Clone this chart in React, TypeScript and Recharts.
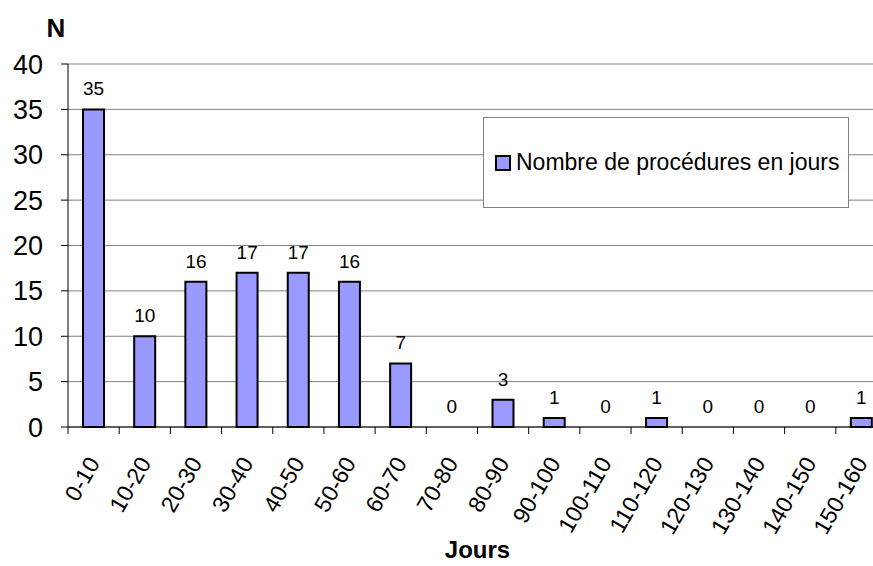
import React from 'react';
import { ComposedChart, Bar, Line, XAxis, YAxis, CartesianGrid, LabelList, Legend } from 'recharts';

const categories = ['0-10', '10-20', '20-30', '30-40', '40-50', '50-60', '60-70', '70-80', '80-90', '90-100', '100-110', '110-120', '120-130', '130-140', '140-150', '150-160'];
const counts = [35, 10, 16, 17, 17, 16, 7, 0, 3, 1, 0, 1, 0, 0, 0, 1];
const yTicks = [0, 5, 10, 15, 20, 25, 30, 35, 40];

const data = categories.map((c, i) => ({ name: c, value: counts[i] }));

const FONT = '"Liberation Sans", Arial, sans-serif';
const BAND = 819 / 16;

const XTick = (props: any) => {
  const { x, y, payload, index } = props;
  const lx = x + 7;
  const ly = y + 36;
  return (
    <g>
      <line x1={x - BAND / 2} y1={y} x2={x - BAND / 2} y2={y + 7} stroke="#000" />
      {index === categories.length - 1 && (
        <line x1={x + BAND / 2} y1={y} x2={x + BAND / 2} y2={y + 7} stroke="#000" />
      )}
      <text x={lx} y={ly} textAnchor="end" fontSize={23} fontFamily={FONT} fill="#000" transform={`rotate(-60, ${lx}, ${ly})`}>
        {payload.value}
      </text>
    </g>
  );
};

// labels drawn from an invisible line so the zero bars get one too
const ValueLabel = (props: any) => {
  const { x, y, value } = props;
  return (
    <text x={x} y={y - 14} textAnchor="middle" fontSize={19} fontFamily={FONT} fill="#000">
      {value}
    </text>
  );
};

const LegendBox = () => (
  <div style={{
    width: 366, height: 91, boxSizing: 'border-box', border: '1px solid #808080', background: '#fff',
    display: 'flex', alignItems: 'center', paddingLeft: 11, fontFamily: FONT, fontSize: 23, color: '#000'
  }}>
    <span style={{ width: 16, height: 16, boxSizing: 'border-box', border: '2px solid #000', background: '#9999FF', marginRight: 5, display: 'inline-block' }} />
    <span>Nombre de procédures en jours</span>
  </div>
);

export default function App() {
  return (
    <div style={{ position: 'fixed', left: 0, top: 0, width: 873, height: 566, overflow: 'hidden', background: '#fff' }}>
      <ComposedChart width={900} height={566} data={data} margin={{ top: 64, right: 13, bottom: 0, left: 0 }} barCategoryGap={0}>
        <CartesianGrid vertical={false} stroke="#808080" />
        <XAxis
          dataKey="name"
          height={139}
          interval={0}
          tickSize={0}
          tickMargin={0}
          stroke="#000"
          tick={<XTick />}
          label={({ viewBox }: any) => (
            <text x={viewBox.x + viewBox.width / 2} y={viewBox.y + 131} textAnchor="middle" fontSize={24} fontWeight="bold" fontFamily={FONT} fill="#000">
              Jours
            </text>
          )}
        />
        <YAxis
          width={68}
          domain={[0, 40]}
          ticks={yTicks}
          interval={0}
          tickSize={7}
          tickMargin={18}
          stroke="#000"
          tick={{ fontSize: 27, fontFamily: FONT, fill: '#000' }}
          label={({ viewBox }: any) => (
            <text x={viewBox.x + 56} y={viewBox.y - 27} textAnchor="middle" fontSize={26} fontWeight="bold" fontFamily={FONT} fill="#000">
              N
            </text>
          )}
        />
        <Legend
          layout="horizontal"
          verticalAlign="middle"
          align="center"
          content={<LegendBox />}
          wrapperStyle={{ left: 483, top: 117, width: 366, height: 91 }}
        />
        <Bar dataKey="value" name="Nombre de procédures en jours" fill="#9999FF" stroke="#000" strokeWidth={2} barSize={21} isAnimationActive={false} />
        <Line dataKey="value" stroke="none" dot={false} activeDot={false} legendType="none" isAnimationActive={false}>
          <LabelList dataKey="value" content={<ValueLabel />} />
        </Line>
      </ComposedChart>
    </div>
  );
}
